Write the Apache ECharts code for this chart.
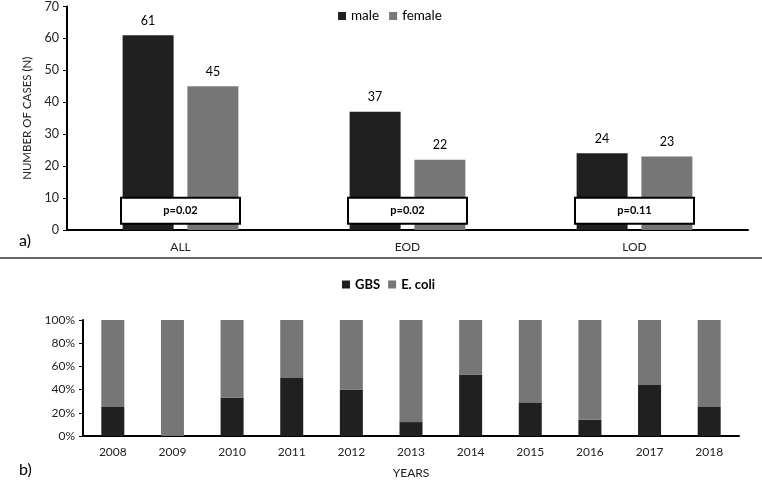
<!DOCTYPE html>
<html>
<head>
<meta charset="utf-8">
<script src="https://cdn.jsdelivr.net/npm/echarts@6/dist/echarts.min.js"></script>
<style>html,body{margin:0;padding:0;background:#fff}#c{width:762px;height:480px}</style>
</head>
<body>
<div id="c"></div>
<script>
// ---- Data ----
var groups = ['ALL', 'EOD', 'LOD'];
var male = [61, 37, 24];
var female = [45, 22, 23];
var pValues = ['p=0.02', 'p=0.02', 'p=0.11'];
var pBoxY = 6; // vertical placement of p-value boxes (value units)

var years = ['2008','2009','2010','2011','2012','2013','2014','2015','2016','2017','2018'];
var gbsPct = [25, 0, 33, 50, 40, 12, 53, 29, 14, 44, 25];
var ecoliPct = [75, 100, 67, 50, 60, 88, 47, 71, 86, 56, 75];

var DARK = '#202020', GREY = '#767676';
var FONT = 'Lato';
var TXT = '#222';

var chart = echarts.init(document.getElementById('c'));
chart.setOption({
  animation: false,
  textStyle: { fontFamily: FONT },
  title: [
    { text: 'a)', left: 14, top: 228, textStyle: { fontSize: 16, fontWeight: 'normal', color: '#000', fontFamily: FONT } },
    { text: 'b)', left: 14, top: 457, textStyle: { fontSize: 16, fontWeight: 'normal', color: '#000', fontFamily: FONT } }
  ],
  legend: [
    { data: ['male', 'female'], top: 4, left: 333, icon: 'rect', itemWidth: 8, itemHeight: 8, itemGap: 10,
      textStyle: { fontSize: 13.5, color: '#000', fontFamily: FONT }, selectedMode: false },
    { data: ['GBS', 'E. coli'], top: 273, left: 337, icon: 'rect', itemWidth: 8, itemHeight: 8, itemGap: 8,
      textStyle: { fontSize: 13, color: '#000', fontWeight: 'bold', fontFamily: FONT }, selectedMode: false }
  ],
  graphic: [
    { type: 'line', shape: { x1: 0, y1: 258, x2: 762, y2: 258 }, style: { stroke: '#333', lineWidth: 1.5 } }
  ],
  grid: [
    { left: 67, right: 14, top: 5, bottom: 250, containLabel: false },
    { left: 83, right: 23, top: 320, height: 116.7, containLabel: false }
  ],
  xAxis: [
    { type: 'category', gridIndex: 0, data: groups,
      axisLine: { lineStyle: { color: '#000', width: 2 } }, axisTick: { show: false },
      axisLabel: { color: TXT, fontSize: 12, margin: 11 } },
    { type: 'category', gridIndex: 1, data: years, name: 'YEARS', nameLocation: 'middle', nameGap: 31,
      nameTextStyle: { color: TXT, fontSize: 12, fontFamily: FONT },
      axisLine: { lineStyle: { color: '#000', width: 2 } }, axisTick: { show: false },
      axisLabel: { color: TXT, fontSize: 12, margin: 10 } }
  ],
  yAxis: [
    { type: 'value', gridIndex: 0, min: 0, max: 70, interval: 10,
      name: 'NUMBER OF CASES (N)', nameLocation: 'middle', nameGap: 32,
      nameTextStyle: { color: TXT, fontSize: 11.5, fontFamily: FONT },
      axisLine: { show: true, lineStyle: { color: '#000', width: 2 } },
      axisTick: { show: true, length: 4, lineStyle: { color: '#000' } },
      splitLine: { show: false },
      axisLabel: { color: TXT, fontSize: 12.5, margin: 8 } },
    { type: 'value', gridIndex: 1, min: 0, max: 100, interval: 20,
      axisLine: { show: true, lineStyle: { color: '#000', width: 2 } },
      axisTick: { show: true, length: 4, lineStyle: { color: '#000' } },
      splitLine: { show: false },
      axisLabel: { color: TXT, fontSize: 12, margin: 8, formatter: '{value}%' } }
  ],
  series: [
    { name: 'male', type: 'bar', xAxisIndex: 0, yAxisIndex: 0, data: male,
      barWidth: 51, barGap: '27%', itemStyle: { color: DARK },
      label: { show: true, position: 'top', distance: 8, color: '#000', fontSize: 12.5 } },
    { name: 'female', type: 'bar', xAxisIndex: 0, yAxisIndex: 0, data: female,
      barWidth: 51, itemStyle: { color: GREY },
      label: { show: true, position: 'top', distance: 8, color: '#000', fontSize: 12.5 } },
    { name: 'p', type: 'scatter', xAxisIndex: 0, yAxisIndex: 0, z: 5,
      data: groups.map(function (g, i) { return [g, pBoxY]; }),
      symbol: 'circle', symbolSize: 1,
      itemStyle: { color: 'rgba(0,0,0,0)', opacity: 1 },
      label: { show: true, position: 'inside', fontSize: 11, fontWeight: 'bold', color: '#000',
        backgroundColor: '#fff', borderColor: '#000', borderWidth: 2,
        width: 117, height: 24, align: 'center', verticalAlign: 'middle', lineHeight: 24,
        formatter: function (p) { return pValues[p.dataIndex]; } } },
    { name: 'GBS', type: 'bar', xAxisIndex: 1, yAxisIndex: 1, stack: 'y', data: gbsPct,
      barWidth: 23, itemStyle: { color: DARK } },
    { name: 'E. coli', type: 'bar', xAxisIndex: 1, yAxisIndex: 1, stack: 'y', data: ecoliPct,
      barWidth: 23, itemStyle: { color: GREY } }
  ]
});
</script>
</body>
</html>
